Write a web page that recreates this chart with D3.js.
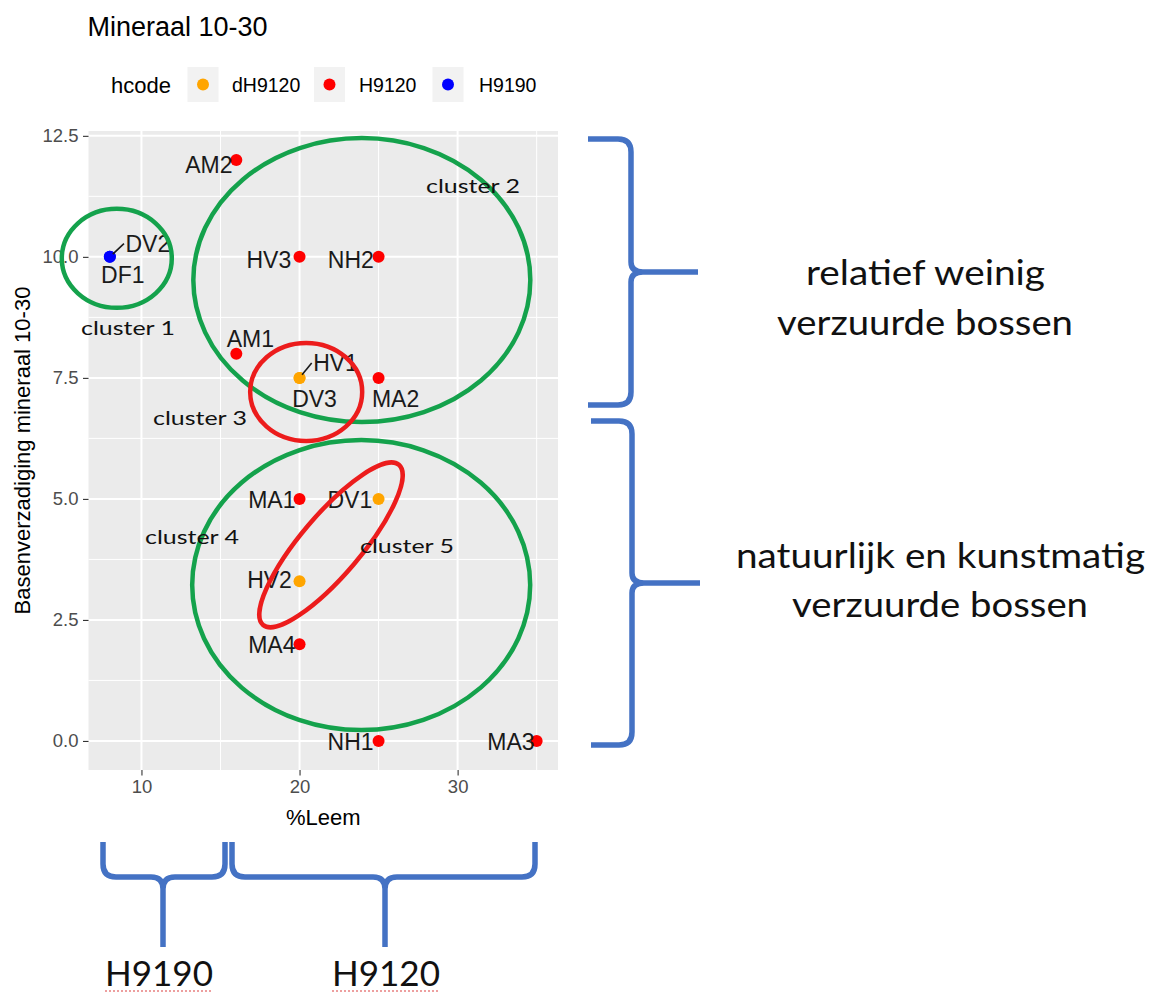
<!DOCTYPE html>
<html>
<head>
<meta charset="utf-8">
<script src="https://cdn.jsdelivr.net/npm/d3@7"></script>
<style>
  html, body { margin: 0; padding: 0; background: #ffffff; }
  svg { display: block; }
</style>
</head>
<body>
<svg id="chart" width="1151" height="994"></svg>
<script>
// Sample points: clay percentage vs. base saturation (mineral layer 10-30 cm)
const siteNames = ["AM2", "DV2", "DF1", "HV3", "NH2", "AM1", "HV1", "DV3", "MA2", "MA1", "DV1", "HV2", "MA4", "NH1", "MA3"];
const leemPct   = [16, 8, 8, 20, 25, 16, 20, 20, 25, 20, 25, 20, 20, 25, 35];
const basenVerz = [12, 10, 10, 10, 10, 8, 7.5, 7.5, 7.5, 5, 5, 3.3, 2, 0, 0];
const hcodes    = ["H9120", "H9190", "H9190", "H9120", "H9120", "H9120", "dH9120", "dH9120", "H9120", "H9120", "dH9120", "dH9120", "H9120", "H9120", "H9120"];

const hcodeLevels = ["dH9120", "H9120", "H9190"];
const xTicks = [10, 20, 30];
const yTicks = [0, 2.5, 5, 7.5, 10, 12.5];

const svg = d3.select("#chart");

// Plot panel
const panel = { left: 88.5, right: 558, top: 131, bottom: 770 };

const xExt = d3.extent(leemPct), yExt = d3.extent(basenVerz);
const xPad = (xExt[1] - xExt[0]) * 0.05, yPad = (yExt[1] - yExt[0]) * 0.05;
const x = d3.scaleLinear().domain([xExt[0] - xPad, xExt[1] + xPad]).range([panel.left, panel.right]);
const y = d3.scaleLinear().domain([yExt[0] - yPad, yExt[1] + yPad]).range([panel.bottom, panel.top]);
const color = d3.scaleOrdinal().domain(hcodeLevels).range(["#FFA500", "#FF0000", "#0000FF"]);

const points = siteNames.map((n, i) => ({ name: n, x: leemPct[i], y: basenVerz[i], code: hcodes[i] }));

const sansR = "'Liberation Sans', Arial, sans-serif";
const sansC = "Lato, 'Open Sans', sans-serif";

// Title
svg.append("text").attr("x", 87.5).attr("y", 36)
  .attr("font-family", sansR).attr("font-size", 27).attr("fill", "#000")
  .text("Mineraal 10-30");

// Legend
const legend = svg.append("g");
legend.append("text").attr("x", 111).attr("y", 93)
  .attr("font-family", sansR).attr("font-size", 22).attr("fill", "#000").text("hcode");
const keyX = [187.5, 314, 432.5];
const labX = [232, 359, 479];
hcodeLevels.forEach((c, i) => {
  legend.append("rect").attr("x", keyX[i]).attr("y", 67).attr("width", 31).attr("height", 35).attr("fill", "#F2F2F2");
  legend.append("circle").attr("cx", keyX[i] + 15.5).attr("cy", 84.5).attr("r", 6).attr("fill", color(c));
  legend.append("text").attr("x", labX[i]).attr("y", 92)
    .attr("font-family", sansR).attr("font-size", 19.5).attr("fill", "#000").text(c);
});

// Panel background and grid
svg.append("rect").attr("x", panel.left).attr("y", panel.top)
  .attr("width", panel.right - panel.left).attr("height", panel.bottom - panel.top).attr("fill", "#EBEBEB");

const grid = svg.append("g");
const xMinor = [15, 25, 35].filter(v => v < x.domain()[1]);
const yMinor = [1.25, 3.75, 6.25, 8.75, 11.25];
xMinor.forEach(v => grid.append("line").attr("x1", x(v)).attr("x2", x(v)).attr("y1", panel.top).attr("y2", panel.bottom).attr("stroke", "#fff").attr("stroke-width", 1));
yMinor.forEach(v => grid.append("line").attr("y1", y(v)).attr("y2", y(v)).attr("x1", panel.left).attr("x2", panel.right).attr("stroke", "#fff").attr("stroke-width", 1));
xTicks.forEach(v => grid.append("line").attr("x1", x(v)).attr("x2", x(v)).attr("y1", panel.top).attr("y2", panel.bottom).attr("stroke", "#fff").attr("stroke-width", 2));
yTicks.forEach(v => grid.append("line").attr("y1", y(v)).attr("y2", y(v)).attr("x1", panel.left).attr("x2", panel.right).attr("stroke", "#fff").attr("stroke-width", 2));

// Axes
const xAxis = d3.axisBottom(x).tickValues(xTicks).tickSize(5.5).tickPadding(4.5).tickFormat(d3.format("d"));
const yAxis = d3.axisLeft(y).tickValues(yTicks).tickSize(5.5).tickPadding(4.5).tickFormat(d3.format(".1f"));
const gx = svg.append("g").attr("transform", `translate(0,${panel.bottom})`).call(xAxis);
const gy = svg.append("g").attr("transform", `translate(${panel.left},0)`).call(yAxis);
[gx, gy].forEach(g => {
  g.select(".domain").remove();
  g.selectAll(".tick line").attr("stroke", "#333").attr("stroke-width", 1.1);
  g.selectAll(".tick text").attr("font-family", sansR).attr("font-size", 18.5).attr("fill", "#4D4D4D");
});

svg.append("text").attr("x", (panel.left + panel.right) / 2).attr("y", 825)
  .attr("text-anchor", "middle").attr("font-family", sansR).attr("font-size", 22).attr("fill", "#000")
  .text("%Leem");
svg.append("text").attr("transform", `translate(30,${(panel.top + panel.bottom) / 2}) rotate(-90)`)
  .attr("text-anchor", "middle").attr("font-family", sansR).attr("font-size", 22).attr("fill", "#000")
  .text("Basenverzadiging mineraal 10-30");

// Points
svg.append("g").selectAll("circle").data(points).join("circle")
  .attr("cx", d => x(d.x)).attr("cy", d => y(d.y)).attr("r", 6)
  .attr("fill", d => color(d.code));

// Repelled labels: offset of text centre / baseline from the point
const labelOffset = {
  AM2: [-27.5, 12.8], DV2: [38, -5.3], DF1: [13, 26], HV3: [-30.7, 11], NH2: [-27.7, 11],
  AM1: [14, -6.8], HV1: [36, -7], DV3: [15, 29], MA2: [17, 29], MA1: [-27.7, 9],
  DV1: [-28.7, 9], HV2: [-30, 6.7], MA4: [-27.7, 8.8], NH1: [-28, 9], MA3: [-25.7, 9]
};
const withSegment = new Set(["DV2", "HV1"]);

const lblG = svg.append("g");
points.forEach(d => {
  const px = x(d.x), py = y(d.y);
  const [dx, dy] = labelOffset[d.name];
  const t = lblG.append("text").attr("x", px + dx).attr("y", py + dy)
    .attr("text-anchor", "middle").attr("font-family", sansR).attr("font-size", 23)
    .attr("fill", "#1a1a1a").text(d.name);
  if (withSegment.has(d.name)) {
    const w = t.node().getComputedTextLength();
    const ex = px + dx - w / 2 - 1.5, ey = py + dy - 8;
    const vx = ex - px, vy = ey - py, len = Math.hypot(vx, vy);
    lblG.append("line").attr("x1", px + vx / len * 4).attr("y1", py + vy / len * 4)
      .attr("x2", ex).attr("y2", ey).attr("stroke", "#1a1a1a").attr("stroke-width", 1.6);
  }
});

// Cluster outlines
const GREEN = "#14A24C", RED = "#EC1C1C", BLUE = "#4472C4";
const clusters = [
  { cx: 8.44,  cy: 9.97, rx: 55,    ry: 49.5, rot: 0,     col: GREEN },
  { cx: 23.94, cy: 9.52, rx: 168.5, ry: 142,  rot: 0,     col: GREEN },
  { cx: 20.42, cy: 7.21, rx: 56,    ry: 49,   rot: 0,     col: RED },
  { cx: 23.9,  cy: 3.22, rx: 169,   ry: 145,  rot: 0,     col: GREEN },
  { cx: 21.99, cy: 4.05, rx: 105,   ry: 30,   rot: -49.7, col: RED }
];
svg.append("g").selectAll("ellipse").data(clusters).join("ellipse")
  .attr("cx", 0).attr("cy", 0).attr("rx", d => d.rx).attr("ry", d => d.ry)
  .attr("transform", d => `translate(${x(d.cx)},${y(d.cy)}) rotate(${d.rot})`)
  .attr("fill", "none").attr("stroke", d => d.col).attr("stroke-width", 4.5);

// Cluster captions
const captions = [
  { t: "cluster 1", x: 81,  y: 335 },
  { t: "cluster 2", x: 426, y: 193 },
  { t: "cluster 3", x: 153, y: 425 },
  { t: "cluster 4", x: 145, y: 544 },
  { t: "cluster 5", x: 360, y: 553 }
];
svg.append("g").selectAll("text").data(captions).join("text")
  .attr("x", d => d.x).attr("y", d => d.y).attr("font-family", sansC).attr("font-size", 20)
  .attr("fill", "#111").attr("textLength", 94).attr("lengthAdjust", "spacingAndGlyphs")
  .text(d => d.t);

// Curly braces
function braceRight(e, s, tip, y0, ym, y1) {
  const r = 13;
  return `M${e},${y0} L${s - r},${y0} Q${s},${y0} ${s},${y0 + r} L${s},${ym - 10} Q${s},${ym} ${s + 12},${ym} L${tip},${ym} ` +
         `M${s + 12},${ym} Q${s},${ym} ${s},${ym + 10} L${s},${y1 - r} Q${s},${y1} ${s - r},${y1} L${e},${y1}`;
}
function braceDown(x0, x1, yEnd, yBar, tipX, tipY) {
  const r = 13;
  return `M${x0},${yEnd} L${x0},${yBar - r} Q${x0},${yBar} ${x0 + r},${yBar} L${tipX - 12},${yBar} Q${tipX},${yBar} ${tipX},${yBar + 12} L${tipX},${tipY} ` +
         `M${tipX},${yBar + 12} Q${tipX},${yBar} ${tipX + 12},${yBar} L${x1 - r},${yBar} Q${x1},${yBar} ${x1},${yBar - r} L${x1},${yEnd}`;
}
const braces = svg.append("g").attr("fill", "none").attr("stroke", BLUE).attr("stroke-width", 5.5);
braces.append("path").attr("d", braceRight(588, 631, 698, 139, 272, 405));
braces.append("path").attr("d", braceRight(591, 632, 700, 421, 583, 745));
braces.append("path").attr("d", braceDown(103, 225, 842, 877, 163, 947));
braces.append("path").attr("d", braceDown(232, 535, 842, 877, 385, 947));

// Side and bottom captions
const sideText = [
  { t: "relatief weinig", cx: 925.5, y: 285, w: 239 },
  { t: "verzuurde bossen", cx: 925, y: 335, w: 296 },
  { t: "natuurlijk en kunstmatig", cx: 940.5, y: 568, w: 409 },
  { t: "verzuurde bossen", cx: 940, y: 617, w: 296 }
];
svg.append("g").selectAll("text").data(sideText).join("text")
  .attr("x", d => d.cx - d.w / 2).attr("y", d => d.y).attr("font-family", sansC).attr("font-size", 34)
  .attr("fill", "#111").attr("textLength", d => d.w).attr("lengthAdjust", "spacingAndGlyphs")
  .text(d => d.t);

const bottomText = [
  { t: "H9190", x: 105, w: 108 },
  { t: "H9120", x: 332, w: 108 }
];
const bt = svg.append("g");
bottomText.forEach(d => {
  bt.append("text").attr("x", d.x).attr("y", 986).attr("font-family", sansC).attr("font-size", 35)
    .attr("fill", "#111").attr("textLength", d.w).attr("lengthAdjust", "spacingAndGlyphs").text(d.t);
  bt.append("line").attr("x1", d.x).attr("x2", d.x + d.w).attr("y1", 991).attr("y2", 991)
    .attr("stroke", "#E88080").attr("stroke-width", 1.6).attr("stroke-dasharray", "2,2");
});
</script>
</body>
</html>
